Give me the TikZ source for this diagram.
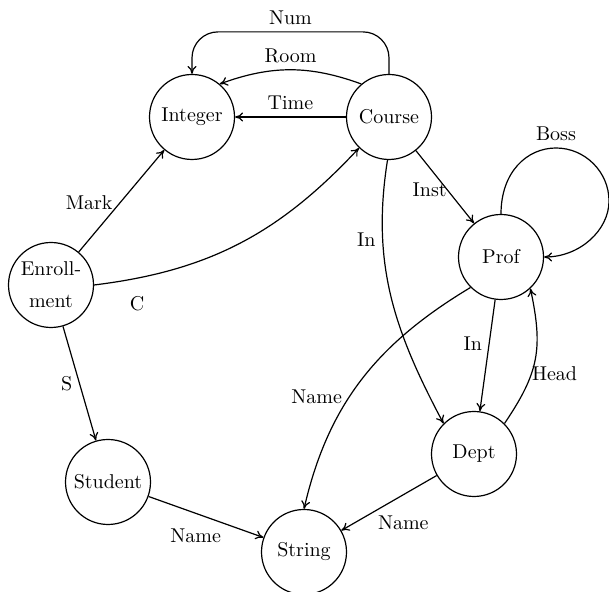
\documentclass[tikz,border=0pt]{standalone}
\usetikzlibrary{arrows.meta}
\begin{document}
\begin{tikzpicture}[x=0.5pt,y=0.5pt,
  st/.style={circle,draw,line width=0.6pt,minimum size=42.5pt,inner sep=1pt,align=center},
  e/.style={-{To[length=4pt,width=4.5pt]},line width=0.6pt}]
\useasboundingbox (0,0) rectangle (609,592);
\node[st] (int) at (192,475) {Integer};
\node[st] (crs) at (389,475) {Course};
\node[st] (prof) at (501,335) {Prof};
\node[st] (enr) at (51,307) {Enroll-\\[4pt]ment};
\node[st] (stu) at (108,110) {Student};
\node[st] (str) at (304,40) {String};
\node[st] (dept) at (474,138) {Dept};

\draw[e] (crs) -- node[above]{Time} (int);
\draw[e] (crs.130) to[bend right=20] node[above]{Room} (int.50);
\draw[e,rounded corners=13pt] (crs.north) -- ++(0,42) -| node[pos=0.25,above]{Num} (int.north);
\draw[e] (enr) -- node[pos=0.48,left]{Mark} (int);
\draw[e] (enr.east) to[out=7,in=227] node[pos=0.13,below=5.5pt]{C} (crs.226);
\draw[e] (enr) -- node[left]{S} (stu);
\draw[e] (stu) -- node[pos=0.41,below=4pt]{Name} (str);
\draw[e] (crs) -- node[pos=0.54,left,inner sep=0pt]{Inst} (prof);
\draw[e] (crs.-92) to[out=-99,in=118] node[pos=0.28,left]{In} (dept.135);
\draw[e] (prof) -- node[pos=0.39,left]{In} (dept);
\draw[e] (dept.45) to[out=56,in=-78,looseness=1.15] node[pos=0.38,right,inner sep=0pt]{Head} (prof.-47);
\draw[e] (prof.225) to[out=211,in=77] node[pos=0.58,left]{Name} (str.north);
\draw[e] (dept) -- node[pos=0.35,below=6.8pt]{Name} (str);
\draw[e] (prof.north) .. controls (501,420) and (527,444) .. (556,444) node[above]{Boss}
  .. controls (585,444) and (609,420) .. (609,391)
  .. controls (609,362) and (580,335) .. (prof.east);
\end{tikzpicture}
\end{document}
